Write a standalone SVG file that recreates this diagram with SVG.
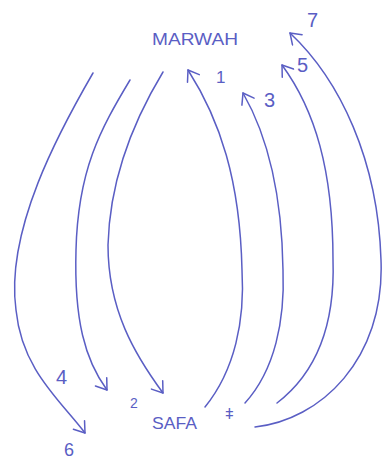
<svg xmlns="http://www.w3.org/2000/svg" width="382" height="461" viewBox="0 0 382 461">
<style>
.ln{fill:none;stroke:#5a5ec4;stroke-width:1.5;stroke-linecap:round;stroke-linejoin:round}
.t{fill:#5a5ec4;font-family:"Liberation Sans",Arial,sans-serif;font-weight:normal}
</style>
<defs>
<marker id="ah" viewBox="-12 -8 14 16" markerWidth="14" markerHeight="16" refX="0" refY="0" orient="auto" markerUnits="userSpaceOnUse">
<path d="M-10,-7 L0,0 L-10,7" fill="none" stroke="#5a5ec4" stroke-width="1.5" stroke-linecap="round" stroke-linejoin="round"/>
</marker>
</defs>
<rect width="382" height="461" fill="#ffffff"/>
<g id="marwah"><text class="t" x="152" y="45" font-size="17" textLength="86" lengthAdjust="spacingAndGlyphs">MARWAH</text></g>
<g id="safa"><text class="t" x="152" y="429" font-size="17" textLength="45" lengthAdjust="spacingAndGlyphs">SAFA</text></g>
<g id="connectors">
<path class="ln" d="M93,73 C60,130 5,230 16,310 C22,370 60,400 85,433" marker-end="url(#ah)"/>
<path class="ln" d="M130,80 C100,130 78,170 76,250 C74,320 85,360 107,390" marker-end="url(#ah)"/>
<path class="ln" d="M163,72 C140,110 110,170 108,245 C108,310 135,355 163,393" marker-end="url(#ah)"/>
<path class="ln" d="M205,407 C235,370 245,320 242,270 C240,180 220,120 188,70" marker-end="url(#ah)"/>
<path class="ln" d="M245,403 C275,370 285,320 283,270 C282,200 270,140 243,93" marker-end="url(#ah)"/>
<path class="ln" d="M277,403 C320,370 335,320 333,260 C333,170 315,110 282,65" marker-end="url(#ah)"/>
<path class="ln" d="M255,427 C320,420 385,360 381,260 C378,160 340,80 290,33" marker-end="url(#ah)"/>
</g>
<g id="labels">
<text class="t" x="216" y="83" font-size="17">1</text>
<text class="t" x="130" y="408" font-size="14">2</text>
<text class="t" x="264" y="107" font-size="20">3</text>
<text class="t" x="56" y="384" font-size="20">4</text>
<text class="t" x="297" y="72" font-size="20">5</text>
<text class="t" x="64" y="456" font-size="18">6</text>
<text class="t" x="307" y="27" font-size="20">7</text>
<text class="t" x="225" y="419" font-size="15" font-weight="bold">ǂ</text>
</g>
</svg>
